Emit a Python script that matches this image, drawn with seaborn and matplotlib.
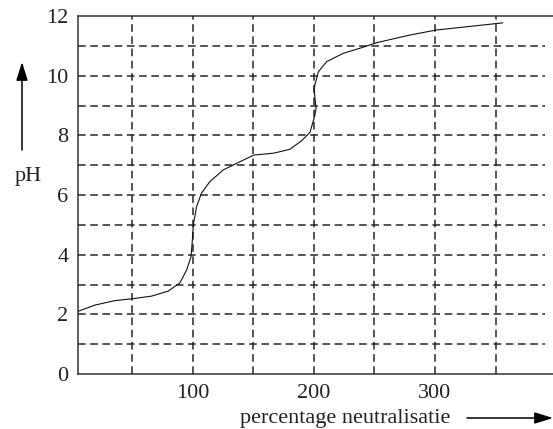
import numpy as np
import pandas as pd
import matplotlib.pyplot as plt
import seaborn as sns

# titration curve
neutralisatie = [5, 19, 35.5, 49.3, 65.8, 79.6, 89.3, 94.8, 98.4, 99.5,
                 100.3, 103, 107, 114, 125, 136, 150.4, 166.4, 180, 189.8,
                 196.7, 200.8, 201.7, 200, 200, 203.6, 210.5, 224.2, 238, 252.3,
                 279, 301, 356]
ph = [2.1, 2.31, 2.46, 2.52, 2.61, 2.78, 3.06, 3.49, 3.93, 4.49,
      5.0, 5.61, 6.06, 6.45, 6.84, 7.06, 7.34, 7.4, 7.53, 7.82,
      8.1, 8.68, 8.9, 9.35, 9.8, 10.13, 10.47, 10.75, 10.92, 11.11,
      11.36, 11.53, 11.77]

y_ticks = [0, 2, 4, 6, 8, 10, 12]
x_ticks = [100, 200, 300]
x_grid = [50, 100, 150, 200, 250, 300, 350]
y_grid = [1, 2, 3, 4, 5, 6, 7, 8, 9, 10, 11]

df = pd.DataFrame({'x': neutralisatie, 'pH': ph})

sns.set_style('white')
plt.rcParams['font.family'] = ['Liberation Serif', 'DejaVu Serif']

fig = plt.figure(figsize=(5.53, 4.29), dpi=100)
ax = fig.add_axes([78 / 553, 55 / 429, 1 - 78 / 553, 358 / 429])

dash = (0, (5, 3))
ax.vlines(x_grid, 0, 12, colors='#262626', linestyles=dash, linewidth=1.1)
ax.hlines(y_grid, 5, 391, colors='#262626', linestyles=dash, linewidth=1.1)

sns.lineplot(data=df, x='x', y='pH', sort=False, color='#111111', linewidth=0.8, ax=ax)

ax.set_xlim(5, 397.5)
ax.set_ylim(0, 12)
ax.set_xticks(x_ticks)
ax.set_yticks(y_ticks)
ax.tick_params(length=0, labelsize=16, colors='#222222', pad=7)
ax.set_xlabel('')
ax.set_ylabel('')
for side in ['top', 'left', 'bottom']:
    ax.spines[side].set_color('#333333')
    ax.spines[side].set_linewidth(1.1)
ax.spines['right'].set_visible(False)

# axis captions with arrows
fig.text(240 / 553, 1 - 418 / 429, 'percentage neutralisatie', fontsize=16,
         color='#222222', ha='left', va='center')
fig.text(28 / 553, 1 - 176 / 429, 'pH', fontsize=16, color='#222222',
         ha='center', va='center')
head = '-|>,head_length=0.8,head_width=0.25'
ax.annotate('', xy=(553 / 553, 1 - 418 / 429), xytext=(467 / 553, 1 - 418 / 429),
            xycoords='figure fraction', textcoords='figure fraction',
            arrowprops=dict(arrowstyle=head, color='black', lw=1.1,
                            mutation_scale=14, shrinkA=0, shrinkB=0))
ax.annotate('', xy=(22 / 553, 1 - 62 / 429), xytext=(22 / 553, 1 - 150 / 429),
            xycoords='figure fraction', textcoords='figure fraction',
            arrowprops=dict(arrowstyle=head, color='black', lw=1.1,
                            mutation_scale=14, shrinkA=0, shrinkB=0))

fig.savefig('out.png', dpi=100)
